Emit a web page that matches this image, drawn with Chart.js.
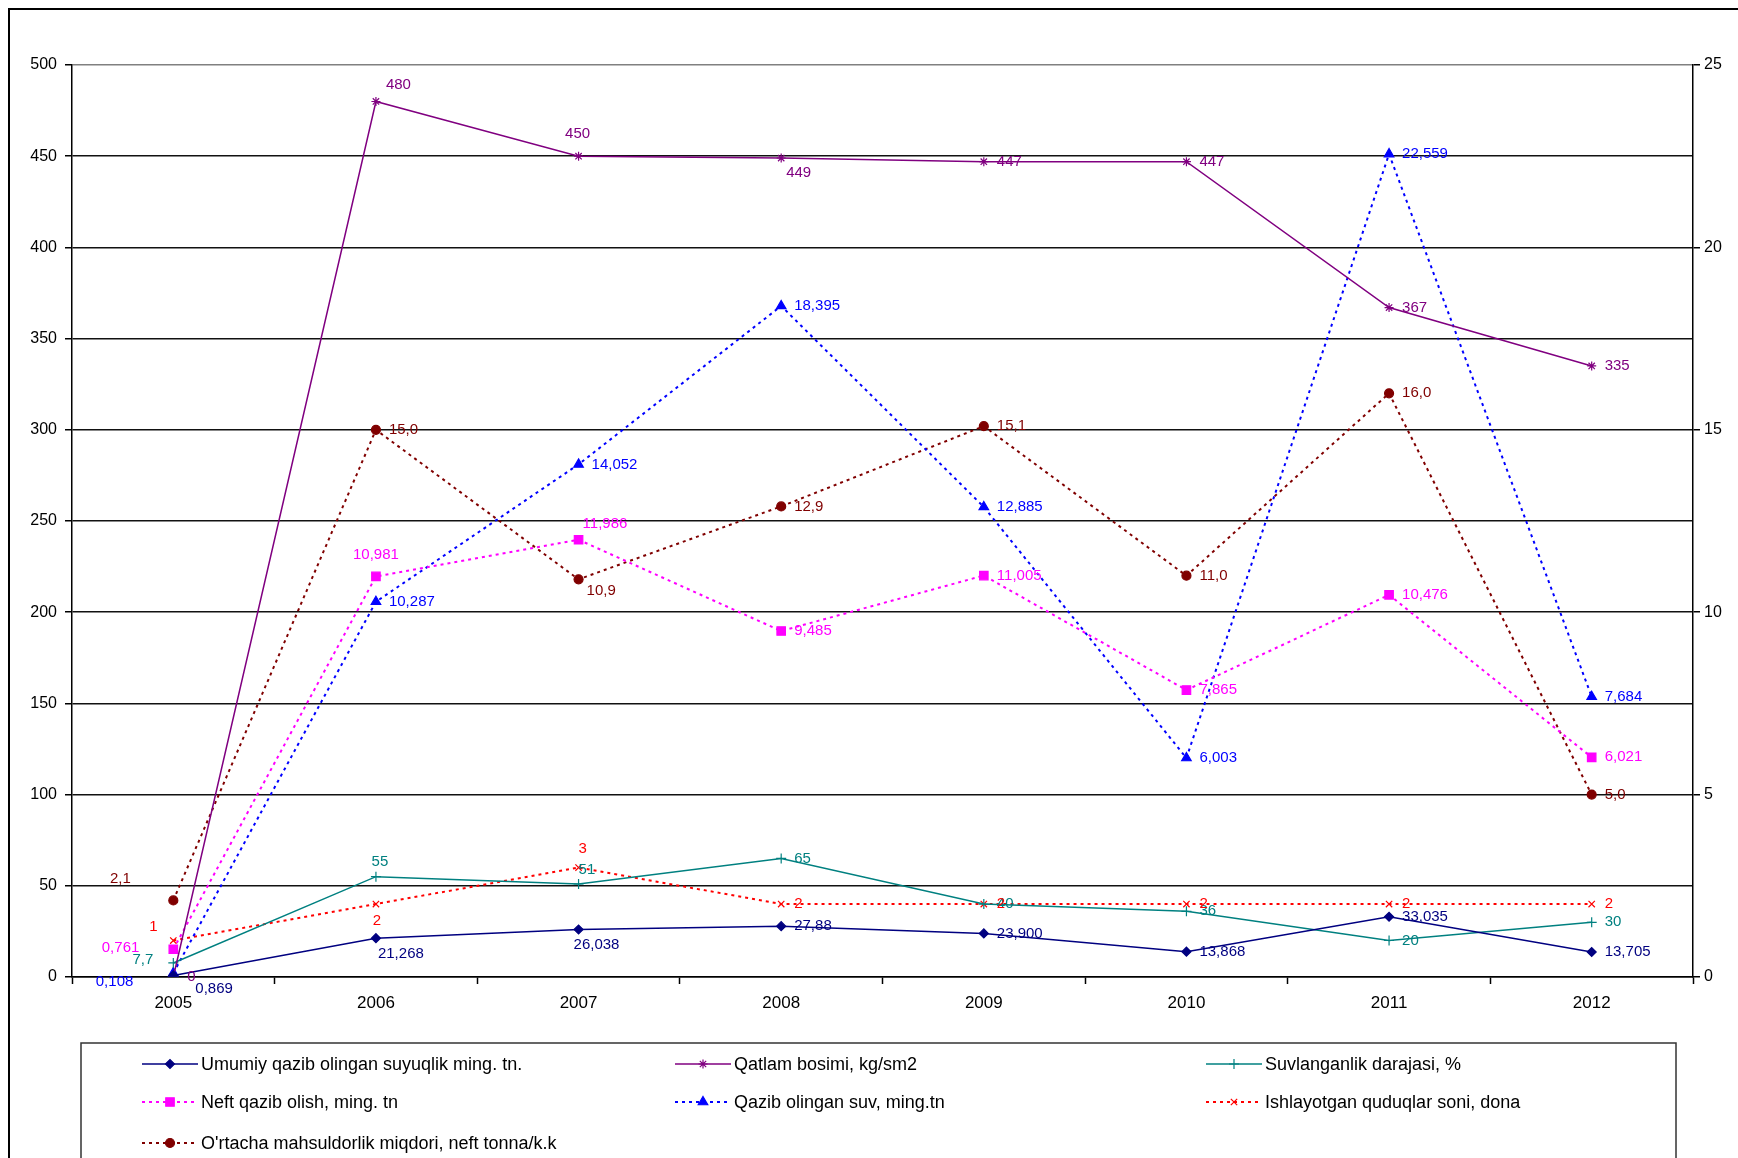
<!DOCTYPE html>
<html>
<head>
<meta charset="utf-8">
<title>Neft koni ko'rsatkichlari 2005-2012</title>
<script src="https://cdn.jsdelivr.net/npm/chart.js"></script>
<style>
  html, body { margin: 0; padding: 0; background: #fff; }
  canvas { display: block; }
</style>
</head>
<body>
<canvas id="fieldChart" width="1738" height="1158"></canvas>
<script>
// Categories (years)
const years = ['2005', '2006', '2007', '2008', '2009', '2010', '2011', '2012'];

// Left axis series
const liquidTotal = [0.869, 21.268, 26.038, 27.88, 23.900, 13.868, 33.035, 13.705];
const reservoirPressure = [0, 480, 450, 449, 447, 447, 367, 335];
const waterCut = [7.7, 55, 51, 65, 40, 36, 20, 30];

// Right axis series
const oilOutput = [0.761, 10.981, 11.986, 9.485, 11.005, 7.865, 10.476, 6.021];
const waterOutput = [0.108, 10.287, 14.052, 18.395, 12.885, 6.003, 22.559, 7.684];
const activeWells = [1, 2, 3, 2, 2, 2, 2, 2];
const avgYield = [2.1, 15.0, 10.9, 12.9, 15.1, 11.0, 16.0, 5.0];

// Axis tick settings
const leftTicks = { min: 0, max: 500, step: 50 };
const rightTicks = { min: 0, max: 25, step: 5 };

const FONT = "'Liberation Sans', Arial, sans-serif";
const DOT = [3, 4];

// Number format like the source (comma as decimal separator)
function fmt(v, dec) {
  const s = dec == null ? String(v) : v.toFixed(dec);
  return s.replace('.', ',');
}

// Label placement: [align, dx, dy] per point, default is right of the point
const labelPos = {
  0: { 0: ['left', 22, 13], 1: ['left', 2, 16], 2: ['left', -5, 15] },
  1: { 0: ['left', 14, 0], 1: ['left', 10, -17], 2: ['center', -1, -22], 3: ['left', 5, 15] },
  2: { 0: ['right', -20, -3], 1: ['center', 4, -15], 2: ['left', 0, -14] },
  3: { 0: ['right', -34, -1], 1: ['center', 0, -22], 2: ['left', 4, -16] },
  4: { 0: ['right', -40, 9] },
  5: { 0: ['center', -20, -14], 1: ['center', 1, 17], 2: ['center', 4, -19] },
  6: { 0: ['center', -53, -22], 2: ['left', 8, 11] }
};

function series(label, data, color, axis, style, radius, dotted, decimals) {
  return {
    label: label,
    data: data,
    yAxisID: axis,
    borderColor: color,
    backgroundColor: color,
    borderWidth: dotted ? 2 : 1.5,
    borderDash: dotted ? DOT : [],
    pointStyle: style,
    pointRadius: radius,
    pointBackgroundColor: color,
    pointBorderColor: color,
    pointBorderWidth: 1.2,
    tension: 0,
    fill: false,
    decimals: decimals
  };
}

const datasets = [
  series('Umumiy qazib olingan suyuqlik ming. tn.', liquidTotal, '#000080', 'y', 'rectRot', 4.5, false, [3, 3, 3, 2, 3, 3, 3, 3]),
  series('Qatlam bosimi, kg/sm2', reservoirPressure, '#800080', 'y', 'star', 4.5, false, null),
  series('Suvlanganlik darajasi, %', waterCut, '#008080', 'y', 'cross', 5, false, null),
  series('Neft qazib olish, ming. tn', oilOutput, '#FF00FF', 'y1', 'rect', 6, true, 3),
  series('Qazib olingan suv, ming.tn', waterOutput, '#0000FF', 'y1', 'triangle', 5.5, true, 3),
  series('Ishlayotgan quduqlar soni, dona', activeWells, '#FF0000', 'y1', 'crossRot', 4.5, true, null),
  series("O'rtacha mahsuldorlik miqdori, neft tonna/k.k", avgYield, '#800000', 'y1', 'circle', 4.5, true, 1)
];

// Draws the value labels next to each point
const valueLabels = {
  id: 'valueLabels',
  afterDatasetsDraw(chart) {
    const ctx = chart.ctx;
    ctx.save();
    ctx.font = '15px ' + FONT;
    ctx.textBaseline = 'middle';
    chart.data.datasets.forEach((ds, i) => {
      const meta = chart.getDatasetMeta(i);
      meta.data.forEach((pt, j) => {
        const dec = Array.isArray(ds.decimals) ? ds.decimals[j] : ds.decimals;
        const pos = (labelPos[i] && labelPos[i][j]) || ['left', 13, 0];
        ctx.fillStyle = ds.borderColor;
        ctx.textAlign = pos[0];
        ctx.fillText(fmt(ds.data[j], dec), pt.x + pos[1], pt.y + pos[2]);
      });
    });
    ctx.restore();
  }
};

// Outer frame and the boxed legend at the bottom
const frameAndLegend = {
  id: 'frameAndLegend',
  afterDraw(chart) {
    const ctx = chart.ctx;
    ctx.save();
    ctx.strokeStyle = '#000';
    ctx.lineWidth = 2;
    ctx.beginPath();
    ctx.moveTo(9, 1160);
    ctx.lineTo(9, 9);
    ctx.lineTo(1740, 9);
    ctx.stroke();

    ctx.lineWidth = 1.5;
    ctx.strokeStyle = '#333';
    ctx.strokeRect(81, 1043, 1595, 140);

    const cols = [142, 675, 1206];
    const rows = [1064, 1102, 1143];
    ctx.font = '18px ' + FONT;
    ctx.textBaseline = 'middle';
    ctx.textAlign = 'left';
    chart.data.datasets.forEach((ds, i) => {
      const x = cols[i % 3];
      const y = rows[Math.floor(i / 3)];
      ctx.strokeStyle = ds.borderColor;
      ctx.fillStyle = ds.borderColor;
      ctx.lineWidth = ds.borderWidth;
      ctx.setLineDash(ds.borderDash);
      ctx.beginPath();
      ctx.moveTo(x, y);
      ctx.lineTo(x + 56, y);
      ctx.stroke();
      ctx.setLineDash([]);
      ctx.lineWidth = 1.2;
      Chart.helpers.drawPoint(ctx, {
        pointStyle: ds.pointStyle,
        radius: ds.pointRadius,
        rotation: 0,
        borderWidth: 1.2
      }, x + 28, y);
      ctx.fillStyle = '#000';
      ctx.fillText(ds.label, x + 59, y + 1);
    });
    ctx.restore();
  }
};

function renderFieldChart() {
  const ctx = document.getElementById('fieldChart');
  if (!ctx) return;

  new Chart(ctx, {
    type: 'line',
    data: { labels: years, datasets: datasets },
    plugins: [valueLabels, frameAndLegend],
    options: {
      responsive: false,
      animation: false,
      layout: { padding: { top: 65, left: 0, right: 0, bottom: 0 } },
      plugins: {
        legend: { display: false },
        tooltip: { enabled: false }
      },
      scales: {
        x: {
          offset: true,
          grid: {
            offset: true,
            drawOnChartArea: false,
            drawTicks: true,
            tickLength: 7,
            tickColor: '#000',
            tickWidth: 1.5
          },
          border: { color: '#000', width: 1.5 },
          ticks: { color: '#000', padding: 9, font: { family: FONT, size: 17 } },
          afterFit: function(scale) { scale.height = 181; }
        },
        y: {
          position: 'left',
          min: leftTicks.min,
          max: leftTicks.max,
          grid: {
            color: function(c) { return c.tick && c.tick.value === leftTicks.max ? '#808080' : '#111'; },
            lineWidth: 1.5,
            tickLength: 7,
            tickColor: '#000'
          },
          border: { color: '#000', width: 1.5 },
          ticks: { stepSize: leftTicks.step, color: '#000', padding: 8, font: { family: FONT, size: 16 } },
          afterFit: function(scale) { scale.width = 72; }
        },
        y1: {
          position: 'right',
          min: rightTicks.min,
          max: rightTicks.max,
          grid: {
            drawOnChartArea: false,
            tickLength: 7,
            tickColor: '#000',
            lineWidth: 1.5
          },
          border: { color: '#000', width: 1.5 },
          ticks: { stepSize: rightTicks.step, color: '#000', padding: 4, font: { family: FONT, size: 16 } },
          afterFit: function(scale) { scale.width = 45; }
        }
      }
    }
  });
}

document.addEventListener('DOMContentLoaded', renderFieldChart);
</script>
</body>
</html>
